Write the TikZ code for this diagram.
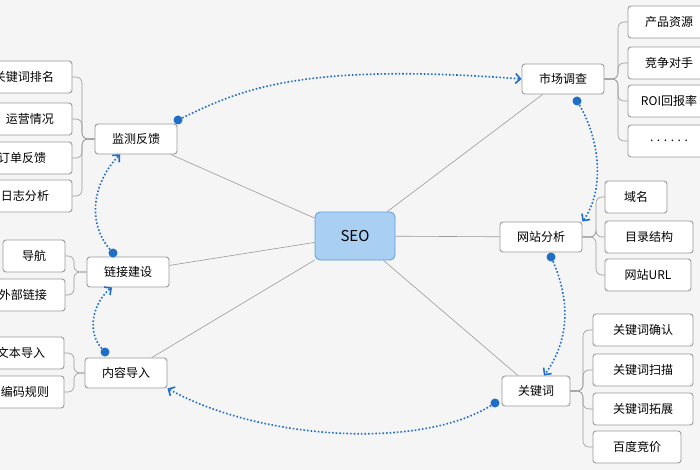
\documentclass[tikz,border=0pt]{standalone}
\usepackage{fontspec}
\setmainfont{Noto Sans CJK SC}
\usetikzlibrary{arrows.meta}
\definecolor{bg}{HTML}{F5F5F5}
\definecolor{edge}{HTML}{9A9A9A}
\definecolor{dotblue}{HTML}{1F6FC8}
\definecolor{seofill}{HTML}{A9CFF2}
\tikzset{
  topic/.style={draw=edge, fill=white, rounded corners=3pt, minimum height=30, minimum width=82, font=\fontsize{12}{12}\selectfont, line width=0.9pt},
  leaf/.style={draw=edge, fill=white, rounded corners=3pt, minimum height=32, font=\fontsize{12}{12}\selectfont, line width=0.9pt},
  link/.style={draw=edge, line width=0.6pt},
  flow/.style={dotblue, dotted, line width=1.6pt, -{Straight Barb[length=5pt]}},
  dotmark/.style={circle, fill=dotblue, inner sep=0, minimum size=9}
}
\begin{document}
\begin{tikzpicture}[x=1pt,y=-1pt]
\fill[bg] (0,0) rectangle (700,470);
\useasboundingbox (0,0) rectangle (700,470);
\clip (0,0) rectangle (700,470);

% centre
\node[draw=dotblue!70, fill=seofill, rounded corners=5pt, minimum width=80, minimum height=48, font=\fontsize{15}{15}\selectfont, line width=0.8pt] (seo) at (355,236) {SEO};

% topics
\node[topic] (market) at (563,79) {市场调查};
\node[topic] (site) at (541,237) {网站分析};
\node[topic, minimum width=68] (kw) at (536,391) {关键词};
\node[topic] (monitor) at (136,139) {监测反馈};
\node[topic] (linkb) at (128,272) {链接建设};
\node[topic] (content) at (126,373) {内容导入};

\foreach \t in {market,site,kw,monitor,linkb,content}
  \draw[link] (seo) -- (\t);

% leaves right
\node[leaf, minimum width=82] (m1) at (669,22) {产品资源};
\node[leaf, minimum width=82] (m2) at (669,63) {竞争对手};
\node[leaf, minimum width=82] (m3) at (669,101) {ROI回报率};
\node[leaf, minimum width=82] (m4) at (669,141) {. . . . . .};
\node[leaf, minimum width=62] (s1) at (636,197) {域名};
\node[leaf, minimum width=88] (s2) at (649,237) {目录结构};
\node[leaf, minimum width=86] (s3) at (648,275) {网站URL};
\node[leaf, minimum width=100] (k1) at (643,330) {关键词确认};
\node[leaf, minimum width=100] (k2) at (643,370) {关键词扫描};
\node[leaf, minimum width=100] (k3) at (643,409) {关键词拓展};
\node[leaf, minimum width=88] (k4) at (637,447) {百度竞价};

% leaves left
\node[leaf, minimum width=110] (f1) at (17,77) {\hspace{14pt}关键词排名};
\node[leaf, minimum width=110] (f2) at (17,119) {\hspace{26pt}运营情况};
\node[leaf, minimum width=110] (f3) at (17,158) {\hspace{10pt}订单反馈};
\node[leaf, minimum width=110] (f4) at (17,196) {\hspace{16pt}日志分析};
\node[leaf, minimum width=62] (l1) at (34,256) {导航};
\node[leaf, minimum width=100] (l2) at (15,295) {\hspace{16pt}外部链接};
\node[leaf, minimum width=100] (c1) at (14,353) {\hspace{14pt}文本导入};
\node[leaf, minimum width=100] (c2) at (14,392) {\hspace{22pt}编码规则};

% brackets
\foreach \p/\x/\l in {market/618/{m1,m2,m3,m4}, site/596/{s1,s2,s3}, kw/583/{k1,k2,k3,k4}}
  \foreach \c in \l
    \draw[link, rounded corners=6pt] (\p.east) -- (\x,0 |- \p.east) |- (\c.west);
\foreach \p/\x/\l in {monitor/82/{f1,f2,f3,f4}, linkb/74/{l1,l2}, content/74/{c1,c2}}
  \foreach \c in \l
    \draw[link, rounded corners=6pt] (\p.west) -- (\x,0 |- \p.west) |- (\c.east);

% flow
\node[dotmark] (d1) at (178,120) {};
\node[dotmark] (d2) at (577,101) {};
\node[dotmark] (d3) at (551,257) {};
\node[dotmark] (d4) at (495,403) {};
\node[dotmark] (d5) at (105,352) {};
\node[dotmark] (d6) at (113,253) {};
\draw[flow] (d1) .. controls (240,90) and (300,62) .. (market.west);
\draw[flow] (d2) .. controls (600,140) and (605,190) .. (site.north east);
\draw[flow] (d3) .. controls (570,300) and (570,340) .. ([xshift=8pt]kw.north);
\draw[flow] (d4) .. controls (420,450) and (260,440) .. (content.south east);
\draw[flow] (d5) .. controls (85,330) and (95,300) .. ([xshift=-16pt]linkb.south);
\draw[flow] (d6) .. controls (85,220) and (95,180) .. ([xshift=-16pt]monitor.south);
\end{tikzpicture}
\end{document}
